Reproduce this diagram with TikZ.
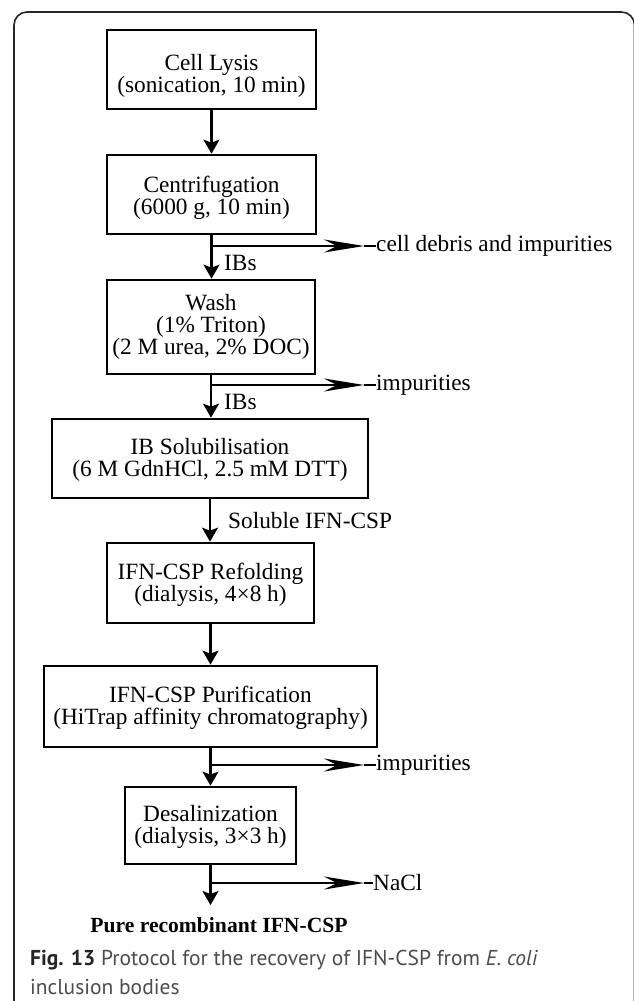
\documentclass[tikz,border=0pt]{standalone}
\usepackage{fontspec}
\setmainfont{Liberation Serif}
\newfontfamily\capfont{PT Sans}
\usetikzlibrary{arrows.meta}
\begin{document}
\begin{tikzpicture}[x=1pt,y=-1pt,
  stepbox/.style={draw, line width=2.7pt, inner sep=0pt},
  boxtext/.style={align=center, inner sep=0pt, font=\fontsize{23.3}{22}\selectfont},
  lbl/.style={inner sep=0pt, anchor=west, font=\fontsize{23.3}{22}\selectfont},
  flow/.style={line width=2.2pt, -{Stealth[length=14pt,width=16pt,inset=3pt]}},
  side/.style={line width=2pt, -{Stealth[length=40pt,width=13pt,inset=13pt]}},
  tail/.style={line width=2pt},
  capt/.style={inner sep=0pt, anchor=west, text=black!70, font=\capfont\fontsize{21.5}{27}\selectfont},
]
\useasboundingbox (0,0) rectangle (633,1001);
\draw[line width=1.6pt, black!85, rounded corners=13pt] (14,1001) -- (14,12) -- (634.5,12) -- (634.5,1001);

% boxes
\node[stepbox, minimum width=209pt, minimum height=79pt] (b1) at (211.5,69.5) {};
\node[boxtext] (t1) at (211.5,76) {Cell Lysis\\(sonication, 10 min)};
\node[stepbox, minimum width=209pt, minimum height=79pt] (b2) at (211.5,194.5) {};
\node[boxtext] (t2) at (211.5,198) {Centrifugation\\(6000 g, 10 min)};
\node[stepbox, minimum width=208pt, minimum height=94pt] (b3) at (211,327) {};
\node[boxtext] (t3) at (211,327) {Wash\\(1\% Triton)\\(2 M urea, 2\% DOC)};
\node[stepbox, minimum width=316pt, minimum height=79pt] (b4) at (210,458.5) {};
\node[boxtext] (t4) at (210,460) {IB Solubilisation\\(6 M GdnHCl, 2.5 mM DTT)};
\node[stepbox, minimum width=207pt, minimum height=80pt] (b5) at (210.5,583) {};
\node[boxtext] (t5) at (210.5,585) {IFN-CSP Refolding\\(dialysis, 4×8 h)};
\node[stepbox, minimum width=333pt, minimum height=81pt] (b6) at (210.5,706.5) {};
\node[boxtext] (t6) at (210.5,708) {IFN-CSP Purification\\(HiTrap affinity chromatography)};
\node[stepbox, minimum width=171pt, minimum height=77pt] (b7) at (210.5,825.5) {};
\node[boxtext] (t7) at (210.5,827) {Desalinization\\(dialysis, 3×3 h)};

% main flow
\draw[flow] (b1.south) -- (b1.south |- b2.north);
\draw[flow] (b2.south) -- (b2.south |- b3.north);
\draw[flow] (b3.south) -- (b3.south |- b4.north);
\draw[flow] (b4.south) -- (b4.south |- b5.north);
\draw[flow] (b5.south) -- (b5.south |- b6.north);
\draw[flow] (b6.south) -- (b6.south |- b7.north);
\coordinate (e) at (210.5,905);
\draw[flow] (b7.south) -- (e);
\node[inner sep=0pt, font=\bfseries\fontsize{21.6}{22}\selectfont] (pure) at (219,925) {Pure recombinant IFN-CSP};

% labels on flow
\node[lbl] (ib1) at (224,263) {IBs};
\node[lbl] (ib2) at (224,402) {IBs};
\node[lbl] (sol) at (228,521) {Soluble IFN-CSP};

% side branches
\coordinate (j1) at (211.5,246); \coordinate (h1) at (364,246);
\node[lbl] (o1) at (376,246) {cell debris and impurities};
\draw[side] (j1) -- (h1); \draw[tail] (h1) -- (o1.west);

\coordinate (j2) at (211,385); \coordinate (h2) at (364,385);
\node[lbl] (o2) at (376,385) {impurities};
\draw[side] (j2) -- (h2); \draw[tail] (h2) -- (o2.west);

\coordinate (j3) at (210.5,765); \coordinate (h3) at (364,765);
\node[lbl] (o3) at (376,765) {impurities};
\draw[side] (j3) -- (h3); \draw[tail] (h3) -- (o3.west);

\coordinate (j4) at (210.5,883); \coordinate (h4) at (364,883);
\node[lbl] (o4) at (373,883) {NaCl};
\draw[side] (j4) -- (h4); \draw[tail] (h4) -- (o4.west);

% caption
\node[capt] (cap1) at (30,960) {{\bfseries\color{black!85}Fig. 13} Protocol for the recovery of IFN-CSP from \textit{E. coli}};
\node[capt] (cap2) at (30,987) {inclusion bodies};
\end{tikzpicture}
\end{document}
